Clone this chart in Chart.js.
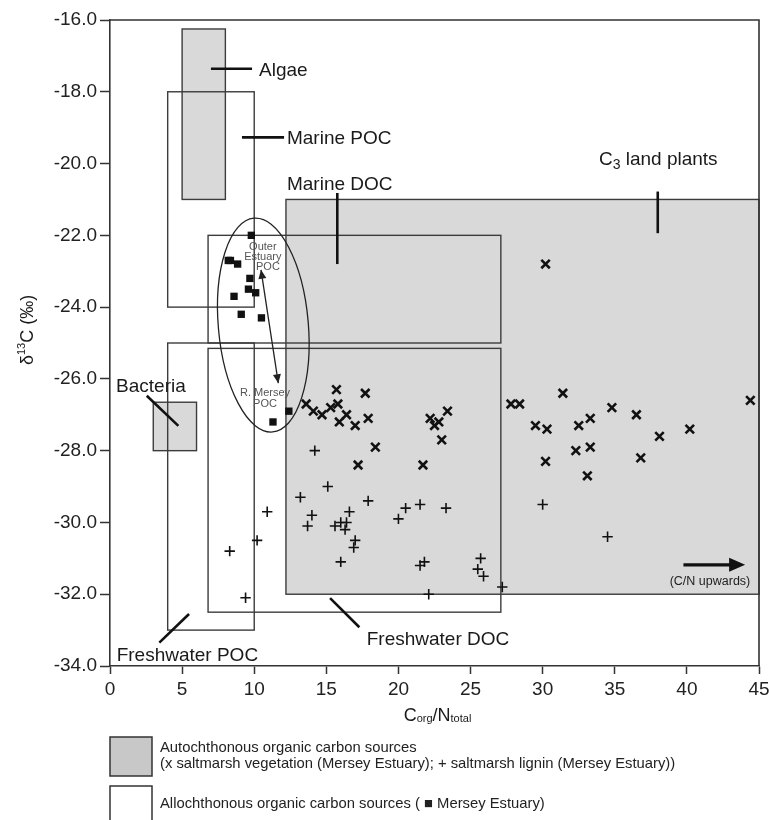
<!DOCTYPE html>
<html>
<head>
<meta charset="utf-8">
<script src="https://cdn.jsdelivr.net/npm/chart.js@4.4.1/dist/chart.umd.min.js"></script>
<style>
  html, body { margin: 0; padding: 0; background: #fff; }
  canvas { display: block; }
</style>
</head>
<body>
<canvas id="chart" width="769" height="820"></canvas>
<script>
// Mersey Estuary: C/N ratio vs d13C against organic carbon source fields

// squares: Mersey Estuary POC
const pocCN = [9.8, 8.2, 8.35, 8.85, 9.7, 9.6, 10.1, 8.6, 9.1, 10.5, 12.4, 11.3];
const pocD13C = [-22.0, -22.7, -22.7, -22.8, -23.2, -23.5, -23.6, -23.7, -24.2, -24.3, -26.9, -27.2];

// x: saltmarsh vegetation
const vegCN = [15.7, 17.7, 13.6, 14.1, 14.7, 15.3, 15.8, 16.4, 15.9, 17.0, 17.9, 18.4, 17.2,
  22.2, 22.8, 23.4, 22.5, 23.0, 21.7, 30.2, 27.8, 28.4, 31.4, 34.8, 36.5, 44.4, 29.5, 30.3,
  32.5, 33.3, 38.1, 40.2, 32.3, 33.3, 30.2, 36.8, 33.1];
const vegD13C = [-26.3, -26.4, -26.7, -26.9, -27.0, -26.8, -26.7, -27.0, -27.2, -27.3, -27.1, -27.9, -28.4,
  -27.1, -27.2, -26.9, -27.3, -27.7, -28.4, -22.8, -26.7, -26.7, -26.4, -26.8, -27.0, -26.6, -27.3, -27.4,
  -27.3, -27.1, -27.6, -27.4, -28.0, -27.9, -28.3, -28.2, -28.7];

// +: saltmarsh lignin
const ligCN = [14.2, 15.1, 13.2, 14.0, 13.7, 10.9, 10.2, 8.3, 9.4, 15.6, 16.0, 16.4, 16.3, 16.6, 17.9,
  17.0, 16.9, 16.0, 20.5, 20.0, 21.5, 23.3, 21.5, 21.8, 22.1, 25.7, 25.5, 25.9, 27.2, 30.0, 34.5];
const ligD13C = [-28.0, -29.0, -29.3, -29.8, -30.1, -29.7, -30.5, -30.8, -32.1, -30.1, -30.0, -30.0, -30.2, -29.7, -29.4,
  -30.5, -30.7, -31.1, -29.6, -29.9, -29.5, -29.6, -31.2, -31.1, -32.0, -31.0, -31.3, -31.5, -31.8, -29.5, -30.4];

// source fields (C/N range, d13C range)
const sourceNames = ['Algae', 'Marine POC', 'Marine DOC', 'Freshwater POC', 'Freshwater DOC', 'C3 land plants', 'Bacteria'];
const sourceCNMin = [5, 4, 6.8, 4, 6.8, 12.2, 3];
const sourceCNMax = [8, 10, 27.1, 10, 27.1, 45, 6];
const sourceD13CMin = [-21, -24, -25, -33, -32.5, -32, -28];
const sourceD13CMax = [-16.25, -18, -22, -25, -25.15, -21, -26.65];
const sourceAutochthonous = [true, false, false, false, false, true, true];

const xTicks = [0, 5, 10, 15, 20, 25, 30, 35, 40, 45];
const yTicks = [-34, -32, -30, -28, -26, -24, -22, -20, -18, -16];

const FONT = '"Liberation Sans", Arial, sans-serif';
const INK = '#111';
const EDGE = '#3c3c3c';
const GREY = '#d9d9d9';

// annotations, in data units
const sourceLabels = [
  { parts: [['Algae', 19]], x: 10.33, y: -17.36 },
  { parts: [['Marine POC', 19]], x: 12.27, y: -19.27 },
  { parts: [['Marine DOC', 19]], x: 12.27, y: -20.54 },
  { parts: [['C', 19], ['3', 14, 4], [' land plants', 19]], x: 33.9, y: -19.84 },
  { parts: [['Bacteria', 19]], x: 0.42, y: -26.17 },
  { parts: [['Freshwater POC', 19]], x: 0.46, y: -33.66 },
  { parts: [['Freshwater DOC', 19]], x: 17.8, y: -33.22 },
];
const leaderLines = [
  [7.0, -17.36, 9.85, -17.36],
  [9.15, -19.27, 12.07, -19.27],
  [15.76, -20.82, 15.76, -22.8],
  [37.98, -20.78, 37.98, -21.94],
  [2.55, -26.47, 4.74, -27.31],
  [3.42, -33.35, 5.48, -32.55],
  [15.26, -32.11, 17.29, -32.92],
];
const pocEllipse = { cx: 10.63, cy: -24.5, rx: 3.12, ry: 2.99, tilt: -5 };
const pocShift = { from: [10.47, -22.96], to: [11.67, -26.12] };
const pocLabels = [
  ['Outer', 10.6, -22.32], ['Estuary', 10.6, -22.6], ['POC', 10.95, -22.88],
  ['R. Mersey', 10.75, -26.39], ['POC', 10.75, -26.7],
];
const cnArrow = { from: [39.76, -31.18], to: [44.04, -31.18], text: '(C/N upwards)', at: [41.6, -31.65] };

const toPoints = (xs, ys) => xs.map((x, i) => ({ x, y: ys[i] }));

function drawRich(ctx, parts, x, y, align) {
  let total = 0;
  parts.forEach(([t, s]) => { ctx.font = s + 'px ' + FONT; total += ctx.measureText(t).width; });
  let cx = align === 'center' ? x - total / 2 : x;
  ctx.textAlign = 'left';
  ctx.textBaseline = 'alphabetic';
  parts.forEach(([t, s, dy]) => {
    ctx.font = s + 'px ' + FONT;
    ctx.fillText(t, cx, y + (dy || 0));
    cx += ctx.measureText(t).width;
  });
}

function arrowHead(ctx, x0, y0, x1, y1, len, half) {
  const a = Math.atan2(y1 - y0, x1 - x0);
  ctx.beginPath();
  ctx.moveTo(x1, y1);
  ctx.lineTo(x1 - len * Math.cos(a) + half * Math.sin(a), y1 - len * Math.sin(a) - half * Math.cos(a));
  ctx.lineTo(x1 - len * Math.cos(a) - half * Math.sin(a), y1 - len * Math.sin(a) + half * Math.cos(a));
  ctx.closePath();
  ctx.fill();
}

const sourceFields = {
  id: 'sourceFields',
  beforeDatasetsDraw(chart) {
    const { ctx, scales: { x, y } } = chart;
    ctx.save();
    const rect = (i) => {
      const l = x.getPixelForValue(sourceCNMin[i]);
      const r = x.getPixelForValue(sourceCNMax[i]);
      const t = y.getPixelForValue(sourceD13CMax[i]);
      const b = y.getPixelForValue(sourceD13CMin[i]);
      return [l, t, r - l, b - t];
    };
    ctx.fillStyle = GREY;
    sourceNames.forEach((n, i) => { if (sourceAutochthonous[i]) ctx.fillRect(...rect(i)); });
    ctx.strokeStyle = EDGE;
    ctx.lineWidth = 1.4;
    sourceNames.forEach((n, i) => ctx.strokeRect(...rect(i)));

    // ellipse around the estuary POC
    const ex = x.getPixelForValue(pocEllipse.cx), ey = y.getPixelForValue(pocEllipse.cy);
    const erx = Math.abs(x.getPixelForValue(pocEllipse.cx + pocEllipse.rx) - ex);
    const ery = Math.abs(y.getPixelForValue(pocEllipse.cy + pocEllipse.ry) - ey);
    ctx.strokeStyle = '#222';
    ctx.lineWidth = 1.3;
    ctx.beginPath();
    ctx.ellipse(ex, ey, erx, ery, pocEllipse.tilt * Math.PI / 180, 0, Math.PI * 2);
    ctx.stroke();

    // double arrow between outer estuary and river POC
    const ax0 = x.getPixelForValue(pocShift.from[0]), ay0 = y.getPixelForValue(pocShift.from[1]);
    const ax1 = x.getPixelForValue(pocShift.to[0]), ay1 = y.getPixelForValue(pocShift.to[1]);
    ctx.beginPath();
    ctx.moveTo(ax0, ay0);
    ctx.lineTo(ax1, ay1);
    ctx.stroke();
    ctx.fillStyle = '#222';
    arrowHead(ctx, ax0, ay0, ax1, ay1, 9, 4);
    arrowHead(ctx, ax1, ay1, ax0, ay0, 9, 4);

    ctx.fillStyle = '#555';
    ctx.textAlign = 'center';
    ctx.textBaseline = 'middle';
    ctx.font = '11px ' + FONT;
    pocLabels.forEach(([t, lx, ly]) => ctx.fillText(t, x.getPixelForValue(lx), y.getPixelForValue(ly)));

    // leader lines and field names
    ctx.strokeStyle = INK;
    ctx.lineWidth = 2.6;
    leaderLines.forEach(([x0, y0, x1, y1]) => {
      ctx.beginPath();
      ctx.moveTo(x.getPixelForValue(x0), y.getPixelForValue(y0));
      ctx.lineTo(x.getPixelForValue(x1), y.getPixelForValue(y1));
      ctx.stroke();
    });
    ctx.fillStyle = '#1a1a1a';
    sourceLabels.forEach((lb) => {
      drawRich(ctx, lb.parts, x.getPixelForValue(lb.x), y.getPixelForValue(lb.y) + 19 * 0.36);
    });

    // C/N upwards arrow
    const cx0 = x.getPixelForValue(cnArrow.from[0]), cy0 = y.getPixelForValue(cnArrow.from[1]);
    const cx1 = x.getPixelForValue(cnArrow.to[0]);
    ctx.fillStyle = INK;
    ctx.lineWidth = 3.2;
    ctx.beginPath();
    ctx.moveTo(cx0, cy0);
    ctx.lineTo(cx1 - 10, cy0);
    ctx.stroke();
    arrowHead(ctx, cx0, cy0, cx1, cy0, 16, 7);
    ctx.fillStyle = '#222';
    ctx.font = '12.5px ' + FONT;
    ctx.textAlign = 'center';
    ctx.textBaseline = 'middle';
    ctx.fillText(cnArrow.text, x.getPixelForValue(cnArrow.at[0]), y.getPixelForValue(cnArrow.at[1]));
    ctx.restore();
  },
  afterDraw(chart) {
    const { ctx, chartArea: a } = chart;
    ctx.save();
    // frame top and right
    ctx.strokeStyle = '#333';
    ctx.lineWidth = 1.6;
    ctx.beginPath();
    ctx.moveTo(a.left, a.top);
    ctx.lineTo(a.right, a.top);
    ctx.lineTo(a.right, a.bottom);
    ctx.stroke();

    // axis titles
    ctx.fillStyle = '#1a1a1a';
    drawRich(ctx, [['C', 18], ['org', 11, 1], ['/N', 18], ['total', 11, 1]], (a.left + a.right) / 2 + 3, a.bottom + 55, 'center');
    ctx.save();
    ctx.translate(33, 330);
    ctx.rotate(-Math.PI / 2);
    drawRich(ctx, [['δ', 18], ['13', 11, -8], ['C (‰)', 18]], 0, 0, 'center');
    ctx.restore();

    // legend
    ctx.lineWidth = 1.5;
    ctx.strokeStyle = '#333';
    ctx.fillStyle = '#c8c8c8';
    ctx.fillRect(110, 737, 42, 39);
    ctx.strokeRect(110, 737, 42, 39);
    ctx.strokeRect(110, 786, 42, 40);
    ctx.fillStyle = '#222';
    ctx.font = '14.8px ' + FONT;
    ctx.textAlign = 'left';
    ctx.textBaseline = 'middle';
    ctx.fillText('Autochthonous organic carbon sources', 160, 748);
    ctx.fillText('(x saltmarsh vegetation (Mersey Estuary); + saltmarsh lignin (Mersey Estuary))', 160, 764);
    ctx.fillText('Allochthonous organic carbon sources ( \u25A0 Mersey Estuary)', 160, 804);
    ctx.restore();
  }
};

const tickFont = { family: FONT, size: 19 };

new Chart(document.getElementById('chart'), {
  type: 'scatter',
  data: {
    datasets: [
      {
        label: 'Mersey Estuary POC',
        data: toPoints(pocCN, pocD13C),
        pointStyle: 'rect',
        pointRadius: 5.2,
        backgroundColor: INK,
        borderWidth: 0,
      },
      {
        label: 'Saltmarsh vegetation',
        data: toPoints(vegCN, vegD13C),
        pointStyle: 'crossRot',
        pointRadius: 6,
        borderColor: INK,
        borderWidth: 2.6,
      },
      {
        label: 'Saltmarsh lignin',
        data: toPoints(ligCN, ligD13C),
        pointStyle: 'cross',
        pointRadius: 5.2,
        borderColor: INK,
        borderWidth: 1.6,
      },
    ],
  },
  options: {
    responsive: false,
    animation: false,
    devicePixelRatio: 1,
    layout: { padding: { top: 20, right: 10, left: 0, bottom: 0 } },
    plugins: { legend: { display: false }, tooltip: { enabled: false } },
    scales: {
      x: {
        type: 'linear',
        min: 0,
        max: 45,
        afterFit: (s) => { s.height = 154; s.paddingLeft = 0; s.paddingRight = 0; },
        afterBuildTicks: (s) => { s.ticks = xTicks.map((v) => ({ value: v })); },
        ticks: { font: tickFont, color: '#222', padding: 4, maxRotation: 0, autoSkip: false },
        grid: { drawOnChartArea: false, tickLength: 8, tickColor: '#333', tickWidth: 1.5 },
        border: { color: '#333', width: 1.6 },
      },
      y: {
        type: 'linear',
        min: -34,
        max: -16,
        afterFit: (s) => { s.width = 110; s.paddingTop = 0; s.paddingBottom = 0; },
        afterBuildTicks: (s) => { s.ticks = yTicks.map((v) => ({ value: v })); },
        ticks: { font: tickFont, color: '#222', padding: 3, autoSkip: false, callback: (v) => v.toFixed(1) },
        grid: { drawOnChartArea: false, tickLength: 10, tickColor: '#333', tickWidth: 1.5 },
        border: { color: '#333', width: 1.6 },
      },
    },
  },
  plugins: [sourceFields],
});
</script>
</body>
</html>
